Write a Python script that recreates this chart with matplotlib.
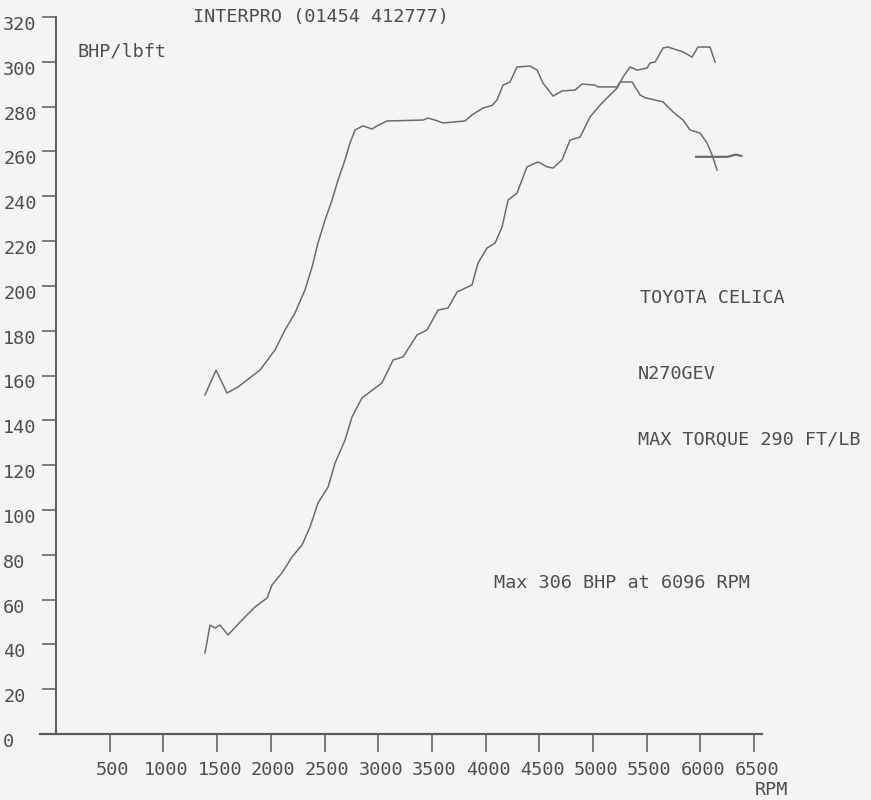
import matplotlib
matplotlib.use("Agg")
import matplotlib.pyplot as plt
import matplotlib.transforms as mtransforms

# ---------------- data (read from the dyno sheet) ----------------
torque_rpm = [1387, 1490, 1592, 1695, 1899, 2039, 2132, 2225, 2318, 2384, 2439, 2505,
              2570, 2626, 2691, 2737, 2784, 2858, 2942, 2989, 3082, 3417, 3464, 3529,
              3603, 3808, 3873, 3976, 4060, 4106, 4162, 4227, 4292, 4413, 4479, 4534,
              4628, 4711, 4832, 4898, 5019, 5047, 5224, 5251, 5363, 5438, 5484, 5652,
              5745, 5838, 5903, 5996, 6061, 6108, 6155]
torque_val = [151.3, 162.4, 152.2, 154.9, 162.4, 171.4, 180.3, 187.9, 198.2, 208.4, 219.1, 229.4,
              238.3, 247.3, 256.2, 263.8, 269.6, 271.4, 270.0, 271.4, 273.6, 274.0, 274.9, 274.0,
              272.7, 273.6, 276.3, 279.4, 280.5, 283.0, 289.6, 291.0, 297.7, 298.1, 296.3, 290.5,
              284.7, 287.0, 287.4, 290.1, 289.6, 288.8, 288.8, 291.0, 291.0, 285.2, 284.0, 282.1,
              277.6, 274.0, 269.6, 268.2, 263.8, 258.4, 251.7]

power_rpm = [1387, 1434, 1480, 1527, 1601, 1732, 1853, 1965, 2011, 2104, 2197, 2291,
             2365, 2439, 2533, 2598, 2691, 2756, 2849, 3035, 3138, 3231, 3361, 3454,
             3557, 3650, 3734, 3873, 3929, 4013, 4088, 4153, 4209, 4292, 4385, 4488,
             4572, 4628, 4711, 4786, 4879, 4972, 5065, 5158, 5224, 5279, 5344, 5410,
             5503, 5531, 5577, 5605, 5652, 5698, 5838, 5922, 5977, 6089, 6136]
power_val = [36.2, 48.6, 47.3, 48.6, 44.2, 50.9, 56.7, 60.7, 66.5, 71.9, 79.0, 84.4,
             92.4, 103.1, 110.2, 120.9, 131.2, 141.5, 150.0, 156.7, 166.9, 168.3, 178.1, 180.3,
             189.2, 190.1, 197.3, 200.4, 210.2, 216.9, 219.1, 226.3, 238.3, 241.4, 253.1, 255.3,
             253.1, 252.6, 256.2, 265.1, 266.4, 275.4, 280.7, 285.2, 288.3, 293.2, 297.7, 296.3,
             297.2, 299.5, 299.9, 302.1, 306.2, 306.6, 304.4, 302.1, 306.6, 306.6, 299.9]

flat_rpm = [5959, 6250, 6330, 6380]
flat_val = [257.6, 257.6, 258.6, 258.0]

x_ticks = [500, 1000, 1500, 2000, 2500, 3000, 3500, 4000, 4500, 5000, 5500, 6000, 6500]
y_ticks = [0, 20, 40, 60, 80, 100, 120, 140, 160, 180, 200, 220, 240, 260, 280, 300, 320]

title_text = "INTERPRO (01454 412777)"
units_text = "BHP/lbft"
car_text = "TOYOTA CELICA"
reg_text = "N270GEV"
torque_text = "MAX TORQUE 290 FT/LB"
power_text = "Max 306 BHP at 6096 RPM"
x_unit_text = "RPM"

# ---------------- styling ----------------
BG = "#f4f4f4"
INK = "#4d4d4d"
LINE = "#6c6c6c"
FONT = "DejaVu Sans Mono"
FS = 13.3

W, H = 871, 800
fig = plt.figure(figsize=(W / 100, H / 100), dpi=100, facecolor=BG)
ax = fig.add_axes([40 / W, (H - 734) / H, (762 - 40) / W, (734 - 17) / H])
ax.set_facecolor(BG)

ax.set_xlim(-149, 6573)
ax.set_ylim(0, 320)

ax.plot(torque_rpm, torque_val, color=LINE, lw=1.1, clip_on=False)
ax.plot(power_rpm, power_val, color=LINE, lw=1.1, clip_on=False)
ax.plot(flat_rpm, flat_val, color=LINE, lw=1.6, clip_on=False)

for s in ("top", "right"):
    ax.spines[s].set_visible(False)
ax.spines["left"].set_position(("data", 0))
ax.spines["left"].set_color("#5a5a5a")
ax.spines["left"].set_linewidth(1.4)
ax.spines["bottom"].set_color("#5a5a5a")
ax.spines["bottom"].set_linewidth(1.6)

ax.set_xticks(x_ticks)
ax.set_xticklabels([str(v) for v in x_ticks])
ax.set_yticks(y_ticks)
ax.set_yticklabels([str(v) for v in y_ticks])

ax.tick_params(axis="x", direction="out", length=13, width=1.1, color="#5a5a5a",
               pad=6.5, labelsize=FS, labelcolor=INK)
ax.tick_params(axis="y", direction="out", length=10, width=1.1, color="#5a5a5a",
               pad=28, labelsize=FS, labelcolor=INK)
for lbl in ax.get_xticklabels() + ax.get_yticklabels():
    lbl.set_fontfamily(FONT)
ydown = mtransforms.ScaledTranslation(0, -0.06, fig.dpi_scale_trans)
for lbl in ax.get_yticklabels():
    lbl.set_horizontalalignment("left")
    lbl.set_transform(lbl.get_transform() + ydown)
xright = mtransforms.ScaledTranslation(0.025, 0, fig.dpi_scale_trans)
for lbl in ax.get_xticklabels():
    lbl.set_transform(lbl.get_transform() + xright)

txt = dict(fontsize=FS, family=FONT, color=INK, ha="left", va="center", clip_on=False)
ax.text(1276, 320, title_text, **txt)
ax.text(196, 304.8, units_text, **txt)
ax.text(5438, 194.6, car_text, **txt)
ax.text(5419, 160.7, reg_text, **txt)
ax.text(5419, 131.2, torque_text, **txt)
ax.text(4078, 67.4, power_text, **txt)
ax.text(6508, -29.0, x_unit_text, **dict(txt, va="bottom"))

fig.savefig("out.png", dpi=100, facecolor=BG)
